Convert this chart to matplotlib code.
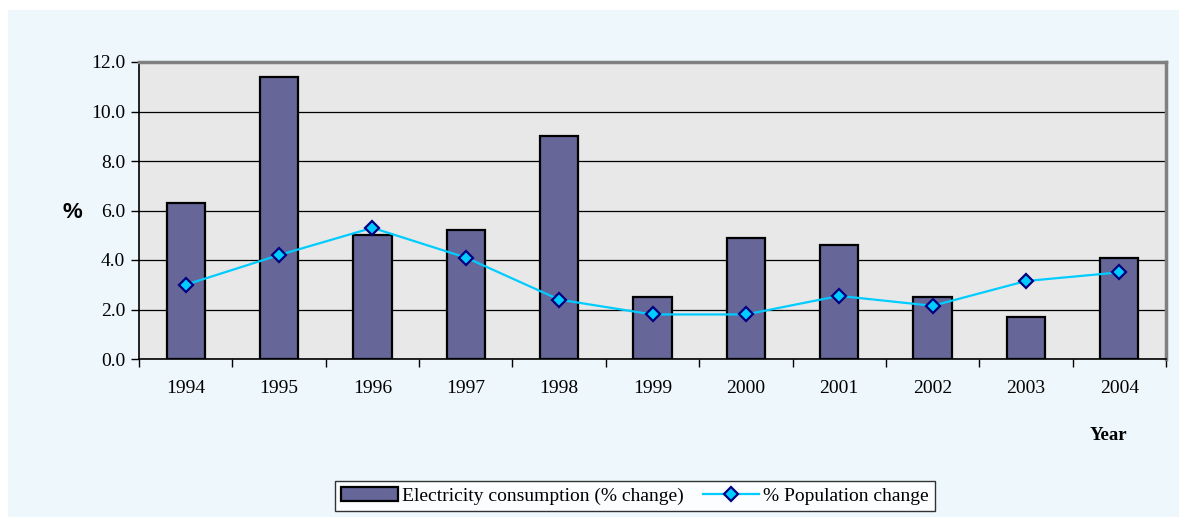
import matplotlib
matplotlib.use("Agg")
import matplotlib.pyplot as plt
import numpy as np
from matplotlib.patches import Rectangle
from matplotlib.lines import Line2D

years = ["1994", "1995", "1996", "1997", "1998", "1999", "2000", "2001", "2002", "2003", "2004"]
electricity = [6.3, 11.4, 5.0, 5.2, 9.0, 2.5, 4.9, 4.6, 2.5, 1.7, 4.1]
population = [3.0, 4.2, 5.3, 4.1, 2.4, 1.8, 1.8, 2.55, 2.15, 3.15, 3.5]
yticks = [0.0, 2.0, 4.0, 6.0, 8.0, 10.0, 12.0]

W, H = 1179, 517
fig = plt.figure(figsize=(W / 100, H / 100), dpi=100)
fig.patch.set_facecolor("white")
# light blue panel
panel = Rectangle((8 / W, 0), 1 - 8 / W, 1 - 10 / H, transform=fig.transFigure,
                  facecolor="#EEF8FC", edgecolor="none", zorder=-10)
fig.add_artist(panel)

left, right, top, bottom = 139, 1166, 62, 359
ax = fig.add_axes([left / W, 1 - bottom / H, (right - left) / W, (bottom - top) / H])
ax.set_zorder(5)
ax.set_facecolor("#E8E8E8")

x = np.arange(len(years))
ax.bar(x, electricity, width=0.41, color="#666699", edgecolor="black", linewidth=1.6, zorder=3)
ax.plot(x, population, color="#00CCFF", linewidth=1.6, marker="D", markersize=7.5,
        markerfacecolor="#00CCFF", markeredgecolor="#000080", markeredgewidth=1.6, zorder=4)

ax.set_xlim(-0.5, len(years) - 0.5)
ax.set_ylim(0, 12)
ax.set_yticks(yticks)
ax.set_yticklabels([f"{v:.1f}" for v in yticks], fontfamily="Liberation Serif", fontsize=14)
ax.yaxis.grid(True, color="black", linewidth=0.9, zorder=1)
ax.set_axisbelow(True)

ax.set_xticks(x)
ax.set_xticklabels(years, fontfamily="Liberation Serif", fontsize=14)
ax.tick_params(axis="x", which="major", length=0, pad=15)
ax.set_xticks(np.arange(-0.5, len(years), 1.0), minor=True)
ax.tick_params(axis="x", which="minor", length=6, width=1, color="black", direction="out")
ax.tick_params(axis="y", length=6, width=1, direction="out", pad=4)

for s in ["left", "bottom"]:
    ax.spines[s].set_color("black")
    ax.spines[s].set_linewidth(1.2)
for s in ["top", "right"]:
    ax.spines[s].set_color("#808080")
    ax.spines[s].set_linewidth(2.5)

fig.text(72 / W, 1 - 213 / H, "%", fontfamily="Liberation Sans", fontweight="bold",
         fontsize=16, ha="center", va="center")
fig.text(1108 / W, 1 - 436 / H, "Year", fontfamily="Liberation Serif", fontweight="bold",
         fontsize=13.5, ha="center", va="center")

handles = [Rectangle((0, 0), 1, 1, facecolor="#666699", edgecolor="black", linewidth=1.6),
           Line2D([], [], color="#00CCFF", linewidth=1.6, marker="D", markersize=7.5,
                  markerfacecolor="#00CCFF", markeredgecolor="#000080", markeredgewidth=1.6)]
leg = fig.legend(handles, ["Electricity consumption (% change)", "% Population change"],
                 loc="center", bbox_to_anchor=(635 / W, 1 - 496 / H), ncol=2,
                 prop={"family": "Liberation Serif", "size": 14}, frameon=True,
                 fancybox=False, edgecolor="black", facecolor="white",
                 handlelength=2.9, handletextpad=0.2, columnspacing=1.0,
                 borderpad=0.3)
leg.get_frame().set_linewidth(1.0)
leg.set_zorder(6)

fig.savefig("out.png", dpi=100, facecolor=fig.get_facecolor())
